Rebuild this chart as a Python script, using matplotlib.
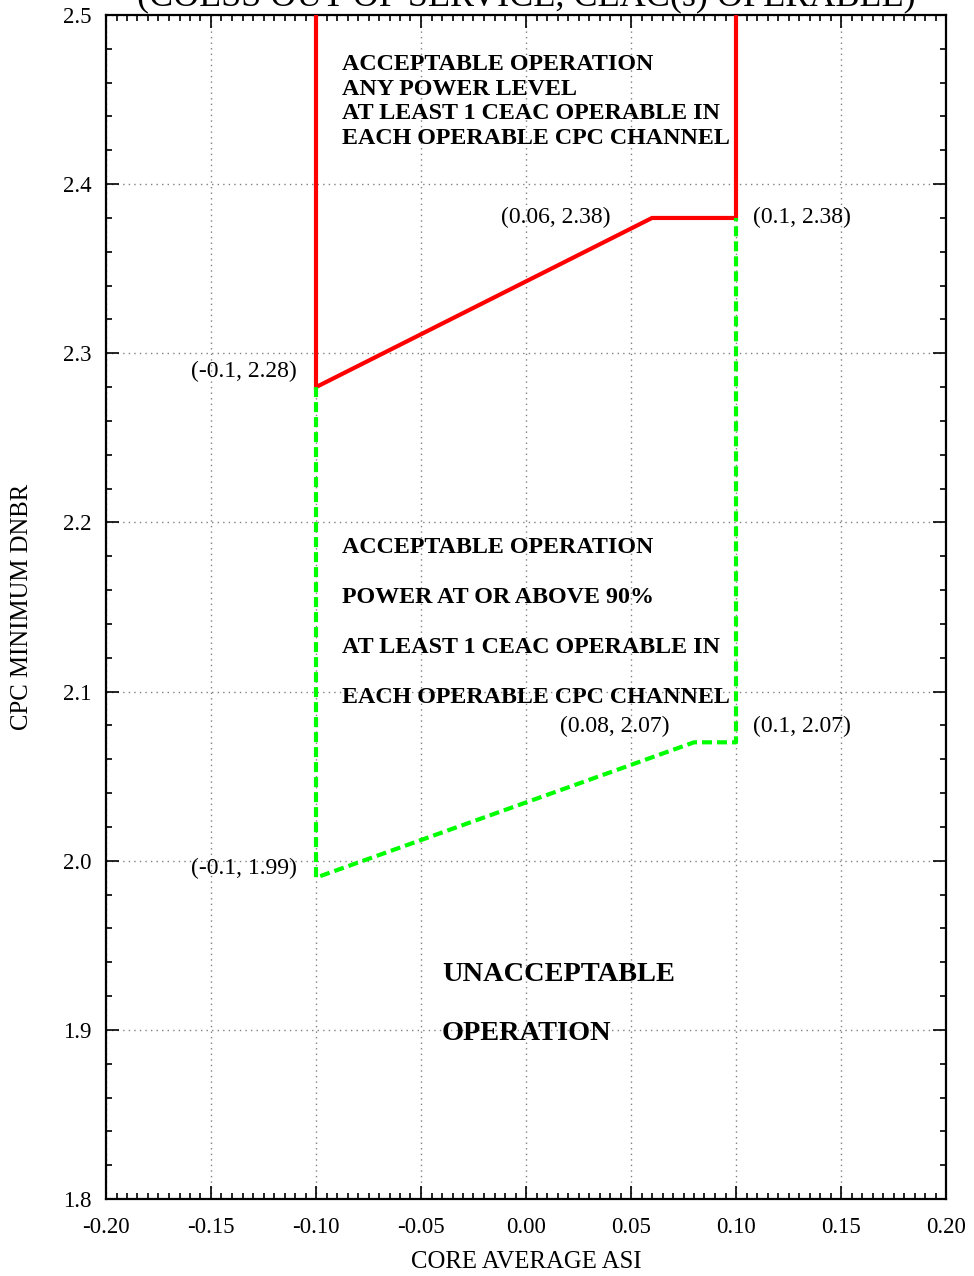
import matplotlib
matplotlib.use("Agg")
import matplotlib.pyplot as plt
from matplotlib.ticker import MultipleLocator, FormatStrFormatter

plt.rcParams['font.family'] = ['Liberation Serif', 'DejaVu Serif']
plt.rcParams['axes.unicode_minus'] = False

# --- data ---
red_x = [-0.10, -0.10, 0.06, 0.10, 0.10]
red_y = [2.50, 2.28, 2.38, 2.38, 2.50]
green_x = [-0.10, -0.10, 0.08, 0.10, 0.10]
green_y = [2.28, 1.99, 2.07, 2.07, 2.38]
point_labels = ["(-0.1, 2.28)", "(0.06, 2.38)", "(0.1, 2.38)",
                "(0.08, 2.07)", "(0.1, 2.07)", "(-0.1, 1.99)"]
upper_text = ["ACCEPTABLE OPERATION", "ANY POWER LEVEL",
              "AT LEAST 1 CEAC OPERABLE IN", "EACH OPERABLE CPC CHANNEL"]
middle_text = ["ACCEPTABLE OPERATION", "POWER AT OR ABOVE 90%",
               "AT LEAST 1 CEAC OPERABLE IN", "EACH OPERABLE CPC CHANNEL"]
lower_text = ["UNACCEPTABLE", "OPERATION"]
title = "(COLSS OUT OF SERVICE, CEAC(s) OPERABLE)"
xlabel = "CORE AVERAGE ASI"
ylabel = "CPC MINIMUM DNBR"

# --- layout / style ---
label_pos = [(-0.109, 2.2895, 'right'), (0.0143, 2.3806, 'center'), (0.108, 2.3806, 'left'),
             (0.0424, 2.0796, 'center'), (0.108, 2.0796, 'left'), (-0.109, 1.9957, 'right')]

fig = plt.figure(figsize=(9.74, 12.76), dpi=100)
W, H = 974, 1276
ax = fig.add_axes([106 / W, 1 - 1199 / H, 840 / W, 1184 / H])
ax.set_xlim(-0.2, 0.2)
ax.set_ylim(1.8, 2.5)

ax.plot(red_x, red_y, color='#ff0000', lw=3.0, solid_joinstyle='miter', zorder=3)
ax.plot(green_x, green_y, color='#00ff00', lw=3.0, dashes=(2.4, 1.2), zorder=3)

ax.xaxis.set_major_locator(MultipleLocator(0.05))
ax.xaxis.set_minor_locator(MultipleLocator(0.005))
ax.yaxis.set_major_locator(MultipleLocator(0.1))
ax.yaxis.set_minor_locator(MultipleLocator(0.02))
ax.xaxis.set_major_formatter(FormatStrFormatter('%.2f'))
ax.yaxis.set_major_formatter(FormatStrFormatter('%.1f'))
ax.tick_params(which='both', direction='in', top=True, right=True, width=1.2, colors='black')
ax.tick_params(which='major', length=9.5, labelsize=16.5)
ax.tick_params(which='minor', length=4.5)
ax.tick_params(axis='x', which='major', pad=13)
ax.tick_params(axis='y', which='major', pad=10.5)
for s in ax.spines.values():
    s.set_linewidth(1.6)
ax.grid(True, which='major', linestyle=(0, (1, 3)), color='#808080', lw=1.0)
ax.set_axisbelow(True)

for txt, (x, y, ha) in zip(point_labels, label_pos):
    ax.text(x, y, txt, ha=ha, va='center', fontsize=17)

ys_up = [2.4710, 2.4562, 2.4415, 2.4267]
for t, y in zip(upper_text, ys_up):
    ax.text(-0.0876, y, t, fontsize=17.3, fontweight='bold', va='center', ha='left')
ys_mid = [2.1849, 2.1554, 2.1258, 2.0962]
for t, y in zip(middle_text, ys_mid):
    ax.text(-0.0876, y, t, fontsize=17.3, fontweight='bold', va='center', ha='left')
ys_low = [1.9330, 1.8976]
for t, y in zip(lower_text, ys_low):
    ax.text(-0.0400, y, t, fontsize=20.4, fontweight='bold', va='center', ha='left')

fig.text(526 / W, 1 - 5 / H, title, ha='center', va='baseline', fontsize=26)
fig.text(526 / W, 1 - 1262 / H, xlabel, ha='center', va='center', fontsize=17.8)
fig.text(22 / W, 1 - 607 / H, ylabel, ha='center', va='center', rotation=90, fontsize=17.8)

fig.savefig("out.png", dpi=100)
